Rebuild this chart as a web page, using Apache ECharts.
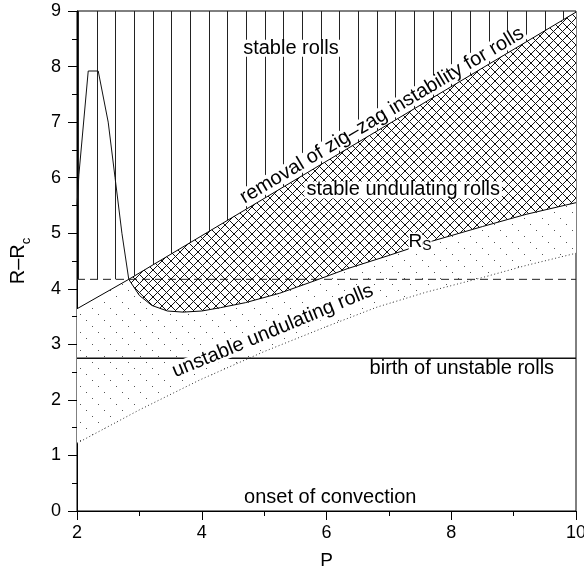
<!DOCTYPE html>
<html>
<head>
<meta charset="utf-8">
<script src="https://cdn.jsdelivr.net/npm/echarts@6/dist/echarts.min.js"></script>
<style>
  html, body { margin: 0; padding: 0; background: #fff; }
  #chart { width: 584px; height: 580px; }
</style>
</head>
<body>
<div id="chart"></div>
<script>
// boundary curves in (P, R-Rc)
var zigzagLine = [[2, 3.64], [2.83, 4.17], [10, 8.98]];
var peakCurve = [[2, 5.5], [2.03, 6.05], [2.18, 7.92], [2.34, 7.92], [2.5, 7.0], [2.61, 6.0], [2.72, 5.0], [2.83, 4.17]];
var rsCurve = [[2.83, 4.17], [3.0, 3.88], [3.2, 3.7], [3.45, 3.6], [3.7, 3.58], [4.0, 3.6], [4.3, 3.66], [4.7, 3.75],
  [5.25, 3.92], [5.8, 4.14], [6.33, 4.36], [7.0, 4.6], [7.7, 4.86], [8.5, 5.12], [9.2, 5.34], [10, 5.55]];
var dottedLine = [[2, 1.22], [3, 1.82], [3.97, 2.36], [5, 2.87], [6, 3.32], [6.81, 3.67], [7.6, 3.94], [8.46, 4.19], [9.2, 4.42], [10, 4.64]];
var dashedLevel = 4.17;
var birthLevel = 2.75;
var xTicks = [2, 4, 6, 8, 10];
var yTicks = [0, 1, 2, 3, 4, 5, 6, 7, 8, 9];

// annotation texts (anchor in data coords, angle in degrees)
var notes = [
  { text: 'stable rolls', at: [5.43, 8.33], angle: 0 },
  { text: 'removal of zig\u2013zag instability for rolls', at: [6.89, 7.12], angle: 30.8 },
  { text: 'stable undulating rolls', at: [7.23, 5.78], angle: 0 },
  { text: 'unstable undulating rolls', at: [5.14, 3.24], angle: 22.5 },
  { text: 'birth of unstable rolls', at: [8.17, 2.57], angle: 0 },
  { text: 'onset of convection', at: [6.06, 0.25], angle: 0 }
];
var rsLabelAt = [7.5, 4.84];

var xMin = xTicks[0], xMax = xTicks[xTicks.length - 1];
var yMin = yTicks[0], yMax = yTicks[yTicks.length - 1];

// regions built from the curves
var stableRegion = [[xMin, dashedLevel]].concat(zigzagLine.slice(1)).concat([[xMax, yMax], [xMin, yMax]]);
var crossRegion = zigzagLine.slice(1).concat(rsCurve.slice().reverse());
var dotRegion = zigzagLine.slice(0, 2).concat(rsCurve.slice(1)).concat(dottedLine.slice().reverse());

function makePattern(w, h, draw) {
  var c = document.createElement('canvas');
  c.width = w;
  c.height = h;
  draw(c.getContext('2d'));
  return { image: c, repeat: 'repeat' };
}

var vertHatch = makePattern(56, 4, function (ctx) {
  ctx.fillStyle = '#222';
  ctx.fillRect(3, 0, 1, 4);
  ctx.fillRect(22, 0, 1, 4);
  ctx.fillRect(41, 0, 1, 4);
});
var crossHatch = makePattern(9, 9, function (ctx) {
  ctx.fillStyle = '#fff';
  ctx.fillRect(0, 0, 9, 9);
  ctx.strokeStyle = '#111';
  ctx.lineWidth = 1;
  ctx.beginPath();
  for (var k = -1; k <= 1; k++) {
    ctx.moveTo(k * 9, 0); ctx.lineTo(k * 9 + 9, 9);
    ctx.moveTo(k * 9 + 9, 0); ctx.lineTo(k * 9, 9);
  }
  ctx.stroke();
});
var dotFill = makePattern(18, 18, function (ctx) {
  ctx.fillStyle = '#fff';
  ctx.fillRect(0, 0, 18, 18);
  ctx.fillStyle = '#555';
  ctx.fillRect(2, 2, 1, 1);
  ctx.fillRect(8, 8, 1, 1);
  ctx.fillRect(14, 14, 1, 1);
});

function regionSeries(points, fill) {
  return {
    type: 'custom',
    silent: true,
    z: 1,
    data: [points[0]],
    renderItem: function (params, api) {
      return {
        type: 'polygon',
        shape: { points: points.map(function (p) { return api.coord(p); }) },
        style: { fill: fill, stroke: null }
      };
    }
  };
}

function lineSeries(data, style) {
  return {
    type: 'line',
    data: data,
    symbol: 'none',
    silent: true,
    z: 3,
    lineStyle: style
  };
}

var font = 'Liberation Sans';

var chart = echarts.init(document.getElementById('chart'), null, { renderer: 'canvas' });

var option = {
  animation: false,
  backgroundColor: '#fff',
  grid: {
    left: 77, right: 8, top: 11, bottom: 69,
    show: true, borderColor: '#000', borderWidth: 1,
    containLabel: false, outerBoundsMode: 'none'
  },
  xAxis: {
    type: 'value', min: xMin, max: xMax, interval: 2,
    name: 'P', nameLocation: 'middle', nameGap: 40,
    nameTextStyle: { fontSize: 19, color: '#000', fontFamily: font },
    axisLine: { onZero: false, lineStyle: { color: '#000', width: 1 } },
    axisTick: { length: 9, lineStyle: { color: '#000' } },
    minorTick: { show: true, splitNumber: 2, length: 5, lineStyle: { color: '#000' } },
    axisLabel: { fontSize: 18, color: '#000', margin: 13, fontFamily: font },
    splitLine: { show: false }
  },
  yAxis: {
    type: 'value', min: yMin, max: yMax, interval: 1,
    name: '{a|R\u2013R}{b|c}', nameLocation: 'middle', nameGap: 44,
    nameTextStyle: {
      color: '#000', fontFamily: font,
      rich: {
        a: { fontSize: 20, lineHeight: 30, fontFamily: font, color: '#000' },
        b: { fontSize: 13, lineHeight: 13, verticalAlign: 'bottom', fontFamily: font, color: '#000' }
      }
    },
    axisLine: { onZero: false, lineStyle: { color: '#000', width: 1 } },
    axisTick: { length: 9, lineStyle: { color: '#000' } },
    minorTick: { show: true, splitNumber: 2, length: 5, lineStyle: { color: '#000' } },
    axisLabel: { fontSize: 18, color: '#000', margin: 16, fontFamily: font },
    splitLine: { show: false }
  },
  series: [
    regionSeries(stableRegion, vertHatch),
    regionSeries(crossRegion, crossHatch),
    regionSeries(dotRegion, dotFill),
    lineSeries(zigzagLine, { color: '#000', width: 1 }),
    lineSeries(peakCurve, { color: '#111', width: 1 }),
    lineSeries(rsCurve, { color: '#000', width: 1 }),
    lineSeries([[xMin, dashedLevel], [xMax, dashedLevel]], { color: '#222', width: 1, type: [8, 5] }),
    lineSeries([[xMin, birthLevel], [xMax, birthLevel]], { color: '#111', width: 1.4 }),
    lineSeries(dottedLine, { color: '#333', width: 1, type: [1, 2.5] }),
    {
      type: 'custom',
      silent: true,
      z: 5,
      data: notes.map(function (n) { return n.at; }),
      renderItem: function (params, api) {
        var n = notes[params.dataIndex];
        var p = api.coord(n.at);
        return {
          type: 'text',
          x: p[0], y: p[1],
          rotation: n.angle * Math.PI / 180,
          style: {
            text: n.text, fill: '#000', fontSize: 20, fontFamily: font, lineHeight: 17,
            align: 'center', verticalAlign: 'middle',
            backgroundColor: '#fff', padding: [0, 2]
          }
        };
      }
    },
    {
      type: 'custom',
      silent: true,
      z: 5,
      data: [rsLabelAt],
      renderItem: function (params, api) {
        var p = api.coord(rsLabelAt);
        return {
          type: 'text',
          x: p[0], y: p[1],
          style: {
            text: '{r|R}{s|S}', align: 'center', verticalAlign: 'middle',
            rich: {
              r: { fontSize: 19, lineHeight: 22, fontFamily: font, fill: '#000', backgroundColor: '#fff' },
              s: { fontSize: 14, lineHeight: 14, verticalAlign: 'bottom', fontFamily: font, fill: '#000', backgroundColor: '#fff' }
            }
          }
        };
      }
    }
  ]
};

chart.setOption(option);
</script>
</body>
</html>
